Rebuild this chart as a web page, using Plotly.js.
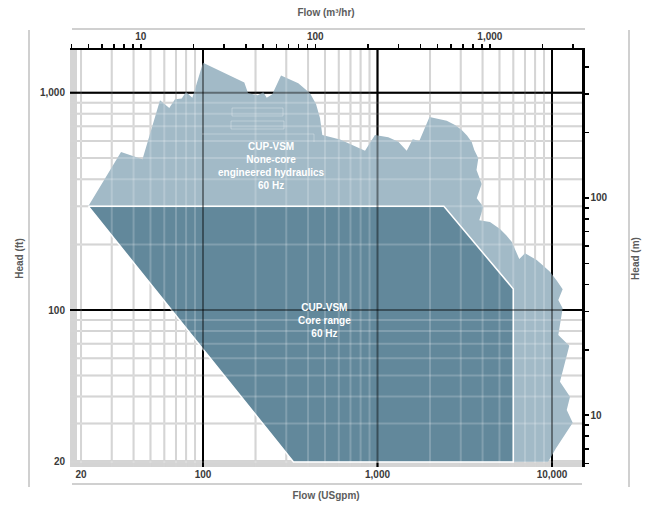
<!DOCTYPE html>
<html><head><meta charset="utf-8">
<script src="https://cdn.plot.ly/plotly-3.0.1.min.js"></script>
<style>html,body{margin:0;padding:0;background:#fff}#chart{width:656px;height:506px}</style>
</head><body><div id="chart"></div>
<script>
// ---- data (flow in USgpm, head in ft) ----
const coreFlow = [22, 2400, 6000, 6000, 330, 22];
const coreHead = [300, 300, 125, 20, 20, 300];

const envFlow = [22, 33.9, 45.0, 56.7, 64.1, 69.1, 75.5, 79.9, 86.9, 100,
  172.5, 181, 205.8, 221.6, 231.8, 249.5, 280, 351.7, 410.5, 444.2, 468.2, 482.8,
  609.7, 848, 967, 1153, 1316, 1470, 1591, 1736, 1986, 2493, 2780, 3038, 3258, 3466,
  3586, 3782, 3693, 3955, 3703, 4040, 3831, 4412, 5035, 5450, 5875, 6494, 7003,
  8172, 8880, 9739, 10684, 11512, 10866, 11512, 10866, 12565, 11110, 12684, 12145,
  13141, 10541, 9487, 6000, 6000, 2400, 22];
const envHead = [300, 533, 494, 923, 850, 932, 940, 1007, 948, 1374,
  1114, 997, 973, 1004, 948, 983, 1200, 1105, 994, 887, 765, 639,
  609, 541, 639, 623, 595, 541, 610, 600, 773, 743, 710, 673, 635, 593,
  545, 499, 441, 380, 327, 299, 259, 254, 236, 221.4, 206, 171.7, 182.4,
  169.9, 160.3, 150.1, 136, 124.5, 111.2, 101.8, 76.7, 68.5, 46.8, 39.9, 34.7,
  30.3, 23.1, 20, 20, 125, 300, 300];

// ---- ticks and grid ----
const flowTickVals = [20, 100, 1000, 10000];
const flowTickText = ['20', '100', '1,000', '10,000'];
const headTickVals = [20, 100, 1000];
const headTickText = ['20', '100', '1,000'];
const m3hTicks = [4,5,6,7,8,9,10,20,30,40,50,60,70,80,90,100,200,300,400,500,600,700,800,900,1000,2000,3000];
const m3hLabels = {10: '10', 100: '100', 1000: '1,000'};
const meterTicks = [6,7,8,9,10,20,30,40,50,60,70,80,90,100,200,300,400];
const meterLabels = {10: '10', 100: '100'};

const gridMinorFlow = [20,30,40,50,60,70,80,90,200,300,400,500,600,700,800,900,2000,3000,4000,5000,6000,7000,8000,9000];
const gridMajorFlow = [100, 1000, 10000];
const gridMinorHead = [20,30,40,50,60,70,80,90,200,300,400,500,600,700,800,900];
const gridMajorHead = [100, 1000];

// unit conversions
const GPM_TO_M3H = 0.2271247;
const FT_TO_M = 0.3048;

const xRange = [1.2378, 4.1719];
const yRange = [1.2775, 3.1965];
const x2Range = xRange.map(v => v + Math.log10(GPM_TO_M3H));
const y2Range = yRange.map(v => v + Math.log10(FT_TO_M));

function gridTrace(xv, yv, color, width) {
  const x = [], y = [];
  xv.forEach(v => { x.push(v, v, null); y.push(1, 1e6, null); });
  yv.forEach(v => { x.push(1, 1e6, null); y.push(v, v, null); });
  return {x, y, mode: 'lines', line: {color, width}, hoverinfo: 'skip', connectgaps: false};
}

const traces = [
  gridTrace(gridMinorFlow, gridMinorHead, '#cbcbcb', 2),
  gridTrace(gridMajorFlow, gridMajorHead, '#000000', 2),
  {x: envFlow, y: envHead, mode: 'lines', fill: 'toself', fillcolor: '#a2bac7',
   line: {width: 0, color: '#a2bac7'}, hoverinfo: 'skip'},
  {x: coreFlow, y: coreHead, mode: 'lines', fill: 'toself', fillcolor: '#62889b',
   line: {width: 1.5, color: '#ffffff'}, hoverinfo: 'skip'},
  gridTrace(gridMinorFlow, gridMinorHead, 'rgba(255,255,255,0.2)', 2),
  gridTrace(gridMajorFlow, gridMajorHead, 'rgba(0,0,0,0.42)', 2),
  {x: [10, 100], y: [10, 100], xaxis: 'x2', yaxis: 'y2', mode: 'markers',
   marker: {opacity: 0}, hoverinfo: 'skip'}
];

const tickFont = {family: 'Liberation Sans, Arial, sans-serif', size: 10, color: '#3a3a3a', weight: 'bold'};
const titleFont = {family: 'Liberation Sans, Arial, sans-serif', size: 10, color: '#5c5c5c', weight: 'bold'};

function px(p) { return (p - 70) / 512; }
function py(p) { return (467 - p) / 417; }
const frameColor = '#d0d0d0';

const layout = {
  width: 656, height: 506,
  margin: {l: 70, r: 74, t: 50, b: 39},
  paper_bgcolor: '#ffffff', plot_bgcolor: '#ffffff',
  showlegend: false, hovermode: false,
  font: {family: 'Liberation Sans, Arial, sans-serif'},
  xaxis: {type: 'log', range: xRange, showgrid: false, zeroline: false, showline: false,
    ticks: '', tickvals: flowTickVals, ticktext: flowTickText, tickfont: tickFont,
    title: {text: 'Flow (USgpm)', font: titleFont, standoff: 12}, fixedrange: true},
  yaxis: {type: 'log', range: yRange, showgrid: false, zeroline: false, showline: false,
    ticks: '', tickvals: headTickVals, ticktext: headTickText, tickfont: tickFont,
    ticklabelstandoff: 4,
    title: {text: 'Head (ft)', font: titleFont, standoff: 14}, fixedrange: true},
  xaxis2: {type: 'log', overlaying: 'x', side: 'top', anchor: 'y2', range: x2Range,
    showgrid: false, zeroline: false, showline: true, linecolor: '#000', linewidth: 2.5,
    ticks: 'outside', ticklen: 4, tickwidth: 1.5, tickcolor: '#000',
    tickvals: m3hTicks, ticktext: m3hTicks.map(v => m3hLabels[v] || ''), tickfont: tickFont,
    title: {text: 'Flow (m³/hr)', font: titleFont, standoff: 12}, fixedrange: true},
  yaxis2: {type: 'log', overlaying: 'y', side: 'right', anchor: 'x2', range: y2Range,
    showgrid: false, zeroline: false, showline: true, linecolor: '#000', linewidth: 2.5,
    ticks: 'outside', ticklen: 4, tickwidth: 1.5, tickcolor: '#000',
    tickvals: meterTicks, ticktext: meterTicks.map(v => meterLabels[v] || ''), tickfont: tickFont,
    title: {text: 'Head (m)', font: titleFont, standoff: 26}, fixedrange: true},
  shapes: [
    {type: 'rect', xref: 'paper', yref: 'paper', x0: 0, x1: 7/512, y0: 0, y1: 1,
     fillcolor: '#d4d4d4', line: {width: 0}, layer: 'below'},
    {type: 'rect', xref: 'paper', yref: 'paper', x0: 0, x1: 1, y0: 0, y1: 7/417,
     fillcolor: '#d4d4d4', line: {width: 0}, layer: 'below'},
    {type: 'line', xref: 'paper', yref: 'paper', x0: px(72), x1: px(585), y0: py(29), y1: py(29), line: {color: frameColor, width: 2}},
    {type: 'line', xref: 'paper', yref: 'paper', x0: px(72), x1: px(582), y0: py(484), y1: py(484), line: {color: frameColor, width: 2}},
    {type: 'line', xref: 'paper', yref: 'paper', x0: px(29), x1: px(29), y0: py(30), y1: py(487), line: {color: frameColor, width: 2}},
    {type: 'line', xref: 'paper', yref: 'paper', x0: px(629), x1: px(629), y0: py(30), y1: py(487), line: {color: frameColor, width: 2}},
    {type: 'rect', xref: 'paper', yref: 'paper', x0: px(232), x1: px(283), y0: py(116), y1: py(108),
     line: {color: 'rgba(255,255,255,0.3)', width: 1}, layer: 'above'},
    {type: 'rect', xref: 'paper', yref: 'paper', x0: px(231), x1: px(284), y0: py(129), y1: py(121),
     line: {color: 'rgba(255,255,255,0.3)', width: 1}, layer: 'above'},
    {type: 'path', xref: 'paper', yref: 'paper',
     path: 'M ' + px(202) + ' ' + py(134) + ' L ' + px(314) + ' ' + py(134) + ' L ' + px(314) + ' ' + py(142),
     line: {color: 'rgba(255,255,255,0.3)', width: 1}, layer: 'above'}
  ],
  annotations: [
    {xref: 'paper', yref: 'paper', x: px(271), y: py(166), xanchor: 'center', yanchor: 'middle', showarrow: false,
     text: 'CUP-VSM<br>None-core<br>engineered hydraulics<br>60 Hz',
     font: {family: 'Liberation Sans, Arial, sans-serif', size: 10, color: '#ffffff', weight: 'bold'}, align: 'center'},
    {xref: 'paper', yref: 'paper', x: px(324), y: py(320), xanchor: 'center', yanchor: 'middle', showarrow: false,
     text: 'CUP-VSM<br>Core range<br>60 Hz',
     font: {family: 'Liberation Sans, Arial, sans-serif', size: 10, color: '#ffffff', weight: 'bold'}, align: 'center'}
  ]
};

Plotly.newPlot('chart', traces, layout, {staticPlot: true, displayModeBar: false});
</script>
</body></html>
